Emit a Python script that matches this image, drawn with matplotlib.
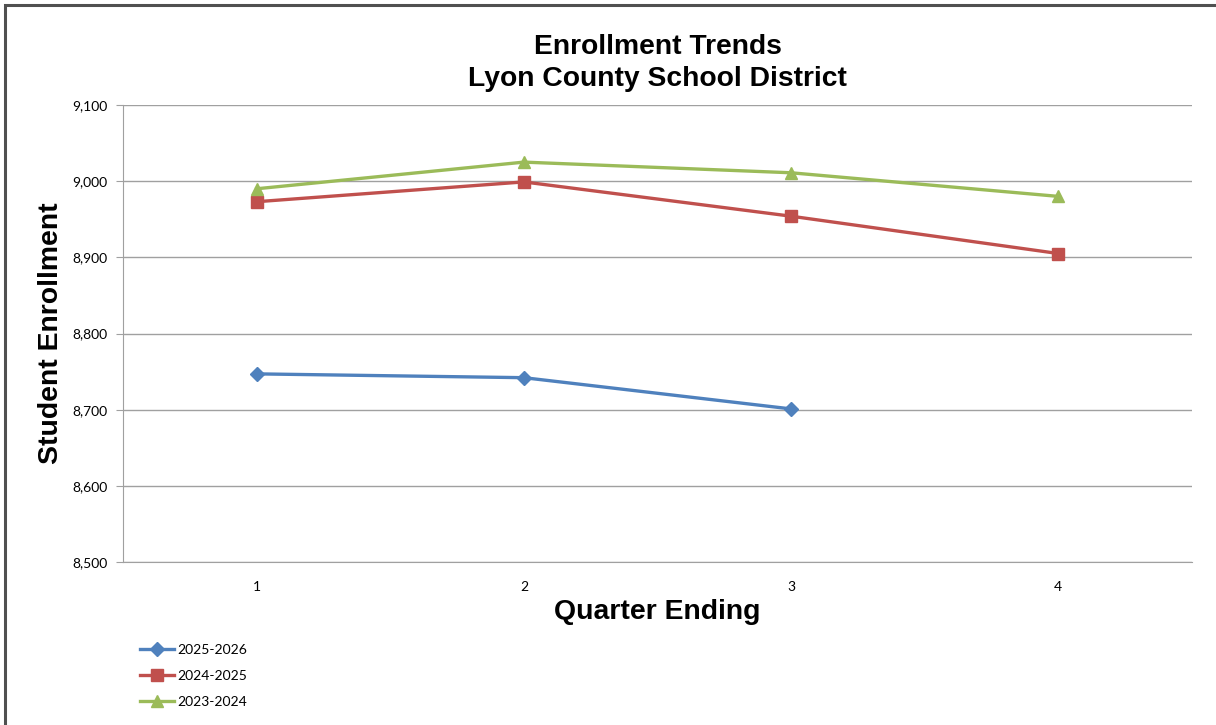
import matplotlib
matplotlib.use("Agg")
import matplotlib.pyplot as plt
from matplotlib.patches import Rectangle

quarters = [1, 2, 3, 4]
y_2025_2026 = [8747, 8742, 8701]
y_2024_2025 = [8973, 8999, 8954, 8905]
y_2023_2024 = [8990, 9025, 9011, 8980]
y_ticks = [8500, 8600, 8700, 8800, 8900, 9000, 9100]

fig = plt.figure(figsize=(12.16, 7.25), dpi=100)
ax = fig.add_axes([0.1012, 0.2248, 0.879, 0.6304])

# chart border (left and top edges visible)
fig.add_artist(Rectangle((0.0045, -0.01), 1.2, 1.003, transform=fig.transFigure,
                         fill=False, edgecolor="#505050", linewidth=2.2))

ax.plot(quarters[:3], y_2025_2026, color="#4F81BD", lw=2.4, marker="D", ms=7,
        label="2025-2026")
ax.plot(quarters, y_2024_2025, color="#C0504D", lw=2.4, marker="s", ms=8,
        label="2024-2025")
ax.plot(quarters, y_2023_2024, color="#9BBB59", lw=2.4, marker="^", ms=9,
        label="2023-2024")

ax.set_xlim(0.5, 4.5)
ax.set_ylim(8500, 9100)
ax.set_xticks(quarters)
ax.set_yticks(y_ticks)
ax.set_yticklabels([f"{v:,}" for v in y_ticks], fontsize=10, family="Lato")
ax.set_xticklabels([str(q) for q in quarters], fontsize=10, family="Lato")
ax.tick_params(axis="x", length=0, pad=14)
ax.tick_params(axis="y", length=5, color="#A0A0A0", pad=6)
ax.grid(axis="y", color="#A0A0A0", lw=1)
ax.set_axisbelow(True)
for s in ["top", "right"]:
    ax.spines[s].set_visible(False)
ax.spines["left"].set_color("#A0A0A0")
ax.spines["bottom"].set_color("#A0A0A0")

ax.set_title("Enrollment Trends\nLyon County School District", fontsize=20.3,
             fontweight="bold", family="Liberation Sans", pad=14, linespacing=1.3)
ax.set_ylabel("Student Enrollment", fontsize=20.4, fontweight="bold",
              family="Liberation Sans", labelpad=6)
ax.set_xlabel("Quarter Ending", fontsize=20.4, fontweight="bold",
              family="Liberation Sans", labelpad=4)

ax.legend(loc="upper left", bbox_to_anchor=(0.105, 0.129), bbox_transform=fig.transFigure,
          frameon=False, prop={"family": "Lato", "size": 10}, handlelength=2.4,
          handletextpad=0.25, labelspacing=1.02)

fig.savefig("out.png", dpi=100)
